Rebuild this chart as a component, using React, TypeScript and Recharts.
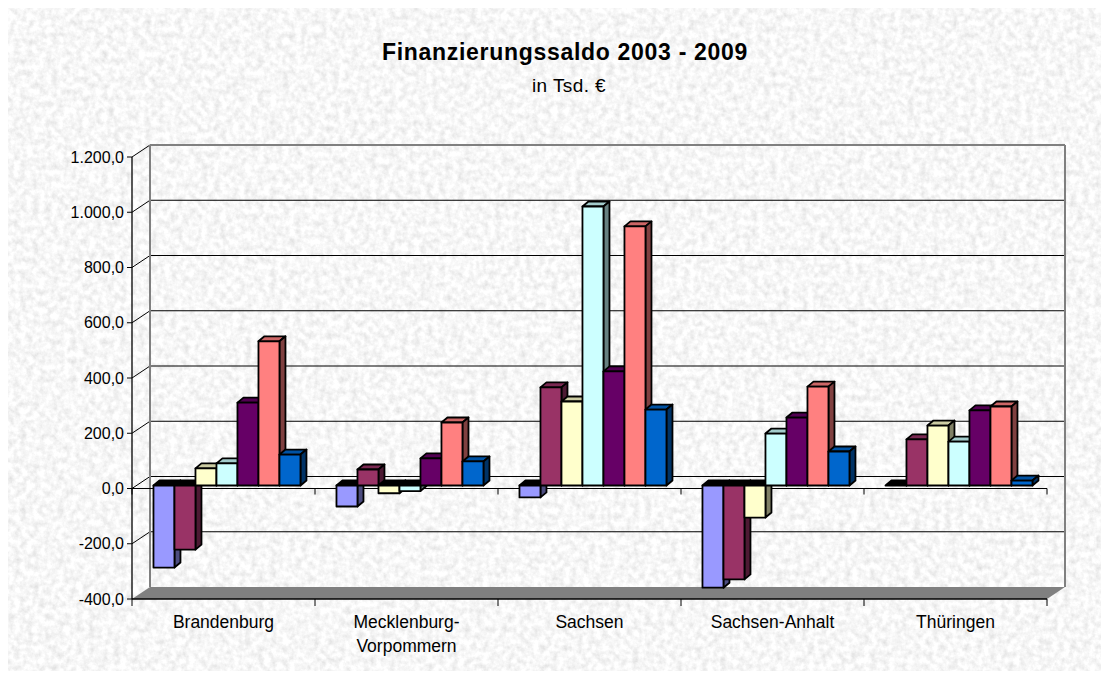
import { Bar, BarChart, CartesianGrid, ReferenceLine, XAxis, YAxis } from "recharts";

const regions = [
  "Brandenburg",
  "Mecklenburg-Vorpommern",
  "Sachsen",
  "Sachsen-Anhalt",
  "Thüringen",
];
const years = ["2003", "2004", "2005", "2006", "2007", "2008", "2009"];

// values per year, in the order of regions (Tsd. €)
const v2003 = [-297, -76, -43, -370, 0];
const v2004 = [-232, 58, 355, -340, 167];
const v2005 = [62, -28, 304, -116, 217];
const v2006 = [80, -20, 1010, 188, 159];
const v2007 = [300, 98, 413, 246, 272];
const v2008 = [522, 228, 938, 358, 286];
const v2009 = [112, 87, 275, 123, 18];

const yTicks = [-400, -200, 0, 200, 400, 600, 800, 1000, 1200];
const colors = ["#9999FF", "#993366", "#FFFFCC", "#CCFFFF", "#660066", "#FF8080", "#0066CC"];

const series = [v2003, v2004, v2005, v2006, v2007, v2008, v2009];
const data = regions.map((region, i) => {
  const row: Record<string, string | number> = { region };
  years.forEach((yr, s) => (row[yr] = series[s][i]));
  return row;
});

const FONT = '"Liberation Sans", Arial, sans-serif';
const W = 1093;
const H = 663;
// depth of the back wall and of a single bar
const WX = 18;
const WY = 12;
const BX = 6;
const BY = 5;

function shade(hex: string, f: number) {
  const n = parseInt(hex.slice(1), 16);
  const c = [(n >> 16) & 255, (n >> 8) & 255, n & 255].map((v) => Math.round(v * f));
  return `rgb(${c[0]},${c[1]},${c[2]})`;
}

function fmt(v: number) {
  const s = Math.abs(v).toFixed(0).replace(/\B(?=(\d{3})+(?!\d))/g, ".");
  return (v < 0 ? "-" : "") + s + ",0";
}

function Box(props: any) {
  const { x, y, width, height, fill, payload, yr } = props;
  const v = payload[yr] as number;
  const top = Math.min(y, y + height) - 3;
  const h = Math.abs(height);
  const l = x + 5;
  const r = l + width;
  const topFill = v <= 0 ? "#000" : shade(fill, 0.8);
  return (
    <g stroke="#000" strokeWidth={1.8} strokeLinejoin="round">
      <polygon
        points={`${l},${top} ${l + BX},${top - BY} ${r + BX},${top - BY} ${r},${top}`}
        fill={topFill}
      />
      <polygon
        points={`${r},${top} ${r + BX},${top - BY} ${r + BX},${top + h - BY} ${r},${top + h}`}
        fill={shade(fill, 0.5)}
      />
      <rect x={l} y={top} width={width} height={h} fill={fill} />
    </g>
  );
}

function WallLine(p: any) {
  const { x1, y1, x2, y2, y, height } = p;
  const isTop = Math.abs(y1 - y) < 0.5;
  const isBottom = Math.abs(y1 - (y + height)) < 0.5;
  return (
    <g key={p.key}>
      {!isBottom && (
        <line x1={x1} y1={y1} x2={x1 + WX} y2={y1 - WY} stroke="#000" strokeWidth={1} />
      )}
      {!isBottom && (
        <line
          x1={x1 + WX}
          y1={y1 - WY}
          x2={x2 + WX}
          y2={y2 - WY}
          stroke={isTop ? "#808080" : "#000"}
          strokeWidth={isTop ? 2 : 1}
        />
      )}
      {isTop && (
        <>
          <line x1={x1 + WX} y1={y1 - WY} x2={x1 + WX} y2={y + height - WY} stroke="#808080" strokeWidth={2} />
          <line x1={x2 + WX} y1={y1 - WY} x2={x2 + WX} y2={y + height - WY} stroke="#808080" strokeWidth={2} />
        </>
      )}
    </g>
  );
}

function Floor(p: any) {
  const { x1, y1, x2, y2 } = p;
  const step = (x2 - x1) / regions.length;
  return (
    <g>
      <polygon
        points={`${x1},${y1} ${x1 + WX},${y1 - WY} ${x2 + WX},${y2 - WY} ${x2},${y2}`}
        fill="#808080"
      />
      {regions.concat([""]).map((_, i) => (
        <line key={i} x1={x1 + i * step} y1={y1} x2={x1 + i * step} y2={y1 + 7} stroke="#000" />
      ))}
    </g>
  );
}

function ZeroLine(p: any) {
  const { x1, y1, x2 } = p;
  const step = (x2 - x1) / regions.length;
  return (
    <g>
      <line x1={x1} y1={y1} x2={x2} y2={y1} stroke="#000" strokeWidth={1.2} />
      {regions.concat([""]).map((_, i) => (
        <line key={i} x1={x1 + i * step} y1={y1} x2={x1 + i * step} y2={y1 + 6} stroke="#000" />
      ))}
    </g>
  );
}

function RegionTick(p: any) {
  const { x, y, payload } = p;
  const label: string = payload.value;
  const lines = label.length > 15 ? [label.slice(0, label.indexOf("-") + 1), label.slice(label.indexOf("-") + 1)] : [label];
  return (
    <text x={x} y={y} textAnchor="middle" fontSize={17.5} fontFamily={FONT} fill="#000">
      {lines.map((t, i) => (
        <tspan key={i} x={x} dy={i === 0 ? 21 : 24}>
          {t}
        </tspan>
      ))}
    </text>
  );
}

export default function App() {
  return (
    <div style={{ position: "relative", width: W, height: H }}>
      <svg width={W} height={H} style={{ position: "absolute", left: 0, top: 0 }}>
        <defs>
          <filter id="marble" x="0" y="0" width="100%" height="100%">
            <feTurbulence type="fractalNoise" baseFrequency="0.16" numOctaves={4} seed={3} />
            <feColorMatrix
              type="matrix"
              values="0.42 0 0 0 0.72  0.42 0 0 0 0.72  0.42 0 0 0 0.72  0 0 0 0 1"
            />
          </filter>
        </defs>
        <rect x={0} y={0} width={W} height={H} filter="url(#marble)" />
        <text
          x={557}
          y={52}
          textAnchor="middle"
          fontFamily={FONT}
          fontWeight="bold"
          fontSize={23}
          letterSpacing={0.7}
          fill="#000"
        >
          Finanzierungssaldo 2003 - 2009
        </text>
        <text x={561} y={84} textAnchor="middle" fontFamily={FONT} fontSize={19} letterSpacing={0.4} fill="#000">
          in Tsd. €
        </text>
      </svg>
      <div style={{ position: "absolute", left: 0, top: 0 }}>
        <BarChart
          width={W}
          height={H}
          data={data}
          margin={{ top: 149, right: 54, bottom: 12, left: 54 }}
          barCategoryGap="9%"
          barGap={0}
        >
          <CartesianGrid horizontal={WallLine} vertical={false} />
          <ReferenceLine y={-400} shape={Floor} zIndex={-90} />
          <ReferenceLine y={0} shape={ZeroLine} zIndex={-80} />
          <XAxis
            dataKey="region"
            height={60}
            interval={0}
            tickLine={false}
            axisLine={{ stroke: "#000", strokeWidth: 1.3 }}
            tick={RegionTick}
          />
          <YAxis
            width={70}
            domain={[-400, 1200]}
            ticks={yTicks}
            interval={0}
            tickFormatter={fmt}
            tickSize={5}
            tickMargin={3}
            axisLine={{ stroke: "#000", strokeWidth: 1.3 }}
            tickLine={{ stroke: "#000" }}
            tick={{ fill: "#000", fontSize: 16, fontFamily: FONT }}
          />
          {years.map((yr, s) => (
            <Bar
              key={yr}
              dataKey={yr}
              fill={colors[s]}
              isAnimationActive={false}
              shape={(p: any) => <Box {...p} yr={yr} />}
            />
          ))}
        </BarChart>
      </div>
    </div>
  );
}
